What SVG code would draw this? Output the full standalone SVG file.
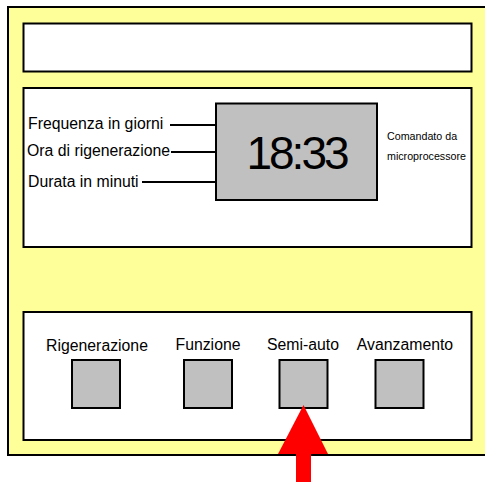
<svg xmlns="http://www.w3.org/2000/svg" width="485" height="482" viewBox="0 0 485 482">
<style>
.panel{fill:#fff;stroke:#000;stroke-width:2}
.gray{fill:#c0c0c0;stroke:#000;stroke-width:2}
.t{font-family:"Liberation Sans",Arial,sans-serif;fill:#000}
.lbl{font-size:15.8px}
.btn{font-size:15.8px;text-anchor:middle}
.small{font-size:10.7px}
.lead{stroke:#000;stroke-width:2;fill:none}
</style>
<rect width="485" height="482" fill="#fff"/>
<g id="case">
<rect x="8" y="7" width="490" height="448" fill="#ffff99" stroke="#000" stroke-width="2"/>
</g>
<g id="top-panel">
<rect class="panel" x="23.5" y="23.5" width="448" height="48"/>
</g>
<g id="display-panel">
<rect class="panel" x="23.5" y="88" width="448" height="159"/>
</g>
<g id="display">
<rect class="gray" x="216" y="103.5" width="161" height="96.5"/>
<text class="t" x="296.5" y="168.5" font-size="46" text-anchor="middle" letter-spacing="-3">18:33</text>
</g>
<g id="lbl-freq"><text class="t lbl" x="28" y="129">Frequenza in giorni</text></g>
<g id="lbl-ora"><text class="t lbl" x="27" y="156">Ora di rigenerazione</text></g>
<g id="lbl-durata"><text class="t lbl" x="28" y="187">Durata in minuti</text></g>
<g id="lbl-micro">
<text class="t small" x="387" y="140">Comandato da</text>
<text class="t small" x="387" y="160">microprocessore</text>
</g>
<g id="connectors">
<line class="lead" x1="170" y1="125" x2="216" y2="125"/>
<line class="lead" x1="171" y1="152" x2="216" y2="152"/>
<line class="lead" x1="142" y1="182" x2="216" y2="182"/>
</g>
<g id="button-panel">
<rect class="panel" x="23.5" y="312" width="448" height="128"/>
</g>
<g id="btn-rigenerazione">
<text class="t btn" x="97" y="351">Rigenerazione</text>
<rect class="gray" x="72" y="360" width="48" height="48"/>
</g>
<g id="btn-funzione">
<text class="t btn" x="208" y="350">Funzione</text>
<rect class="gray" x="184" y="360" width="48" height="48"/>
</g>
<g id="btn-semiauto">
<text class="t btn" x="303" y="350">Semi-auto</text>
<rect class="gray" x="279.5" y="360" width="48" height="48"/>
</g>
<g id="btn-avanzamento">
<text class="t btn" x="405" y="350">Avanzamento</text>
<rect class="gray" x="375.5" y="360" width="48" height="48"/>
</g>
<g id="arrow">
<polygon points="303.5,405 278,454 328,454" fill="#ff0000"/>
<rect x="296" y="453" width="15" height="29" fill="#ff0000"/>
</g>
</svg>
